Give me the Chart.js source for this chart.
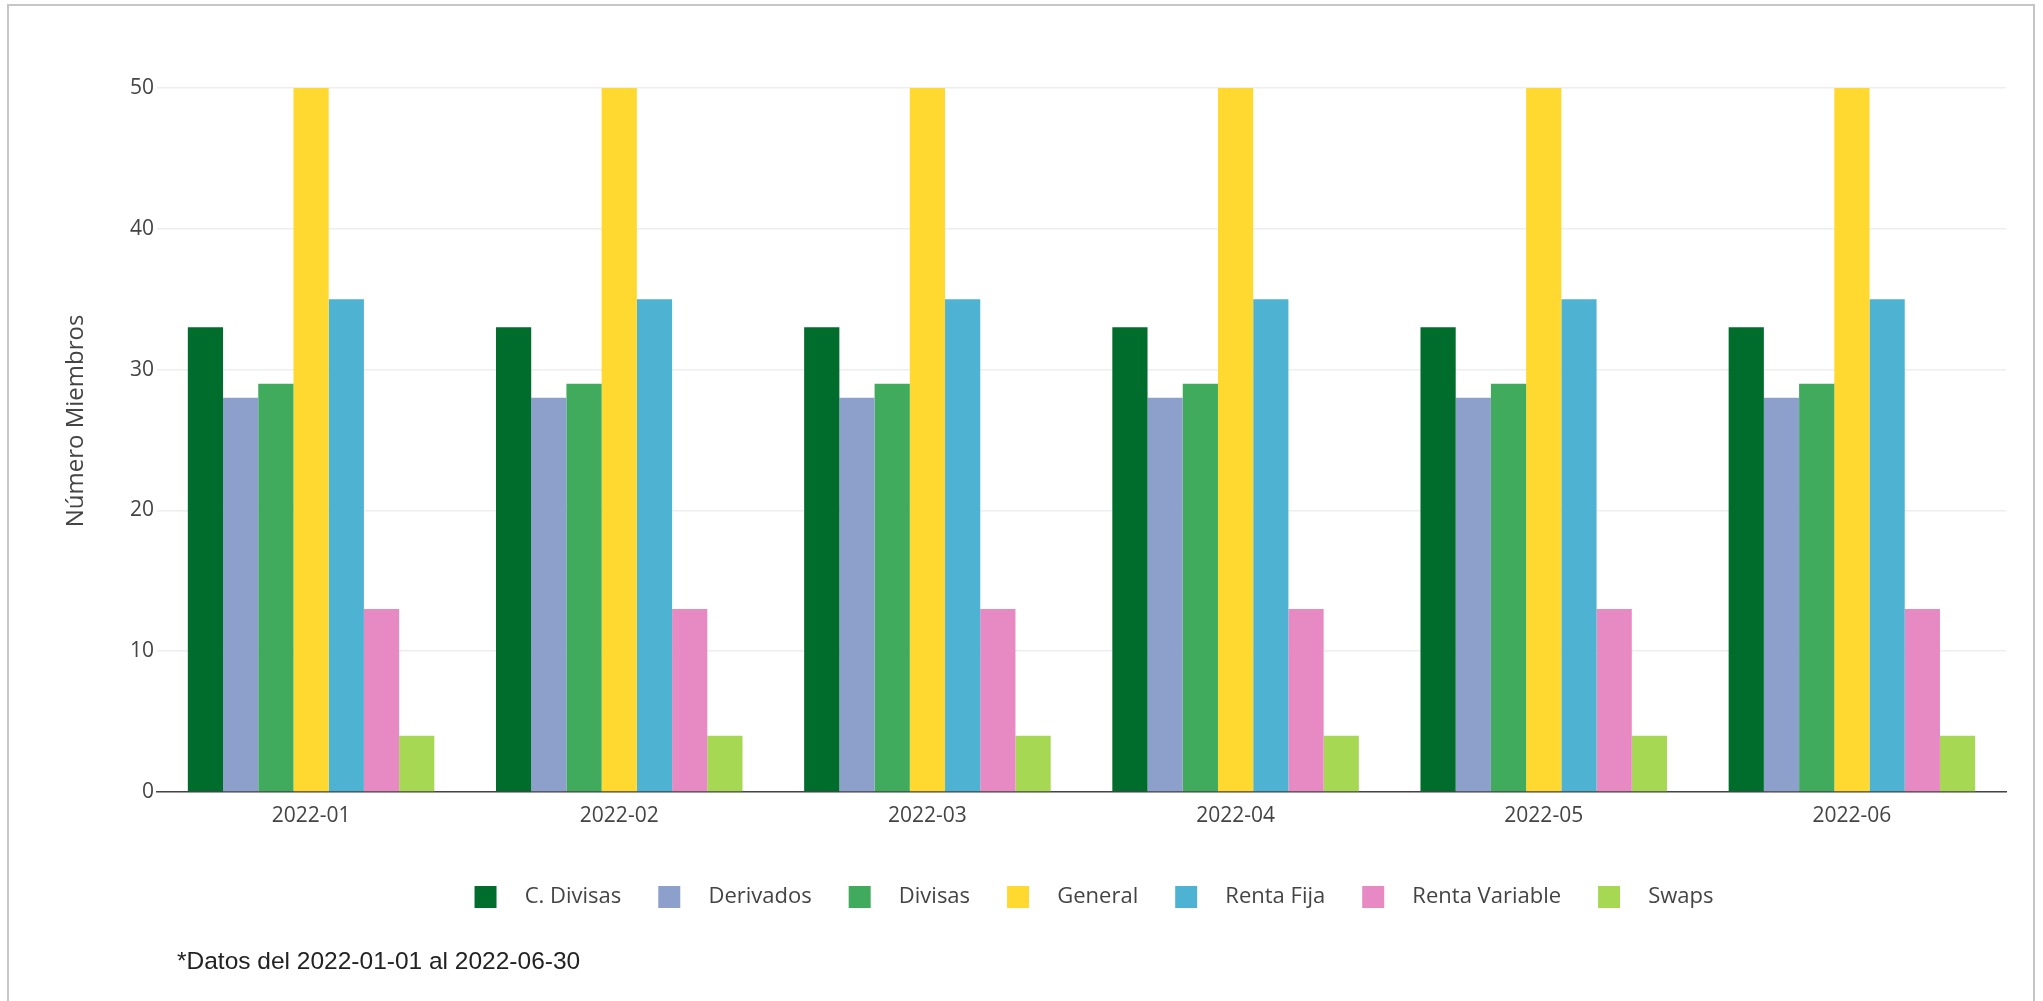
<!DOCTYPE html>
<html>
<head>
    <title>Número Miembros</title>
    <script src="https://cdn.jsdelivr.net/npm/chart.js"></script>
    <style>
        html, body { margin: 0; padding: 0; background: #fff; }
        #marco { position: absolute; left: 7px; top: 4px; width: 2024px; height: 1100px; border: 2px solid #c6c6c6; }
        #caja { position: absolute; left: 0; top: 0; width: 2043px; height: 1001px; }
        #nota { position: absolute; left: 177px; top: 949px; font-family: "Liberation Sans", Arial, sans-serif; font-size: 24.5px; line-height: 1; color: #222; }
    </style>
</head>
<body>
    <div id="marco"></div>
    <div id="caja"><canvas id="miembrosChart"></canvas></div>
    <div id="nota">*Datos del 2022-01-01 al 2022-06-30</div>
    <script>
        const meses = ['2022-01', '2022-02', '2022-03', '2022-04', '2022-05', '2022-06'];
        const cDivisas = [33, 33, 33, 33, 33, 33];
        const derivados = [28, 28, 28, 28, 28, 28];
        const divisas = [29, 29, 29, 29, 29, 29];
        const general = [50, 50, 50, 50, 50, 50];
        const rentaFija = [35, 35, 35, 35, 35, 35];
        const rentaVariable = [13, 13, 13, 13, 13, 13];
        const swaps = [4, 4, 4, 4, 4, 4];

        const series = [
            ['C. Divisas', cDivisas, '#006d2c'],
            ['Derivados', derivados, '#8da0cb'],
            ['Divisas', divisas, '#41ab5d'],
            ['General', general, '#ffd92f'],
            ['Renta Fija', rentaFija, '#4eb3d3'],
            ['Renta Variable', rentaVariable, '#e78ac3'],
            ['Swaps', swaps, '#a6d854']
        ];

        // la leyenda del original no queda centrada en el lienzo, va un poco a la derecha
        const moverLeyenda = {
            id: 'moverLeyenda',
            afterLayout(chart) {
                chart.legend.left += 60;
                chart.legend.right += 60;
            }
        };

        const fuente = '"Open Sans", "Noto Sans", sans-serif';
        const ctx = document.getElementById('miembrosChart').getContext('2d');
        const myChart = new Chart(ctx, {
            type: 'bar',
            data: {
                labels: meses,
                datasets: series.map(s => ({
                    label: s[0],
                    data: s[1],
                    backgroundColor: s[2],
                    borderWidth: 0,
                    categoryPercentage: 0.8,
                    barPercentage: 1.0
                }))
            },
            plugins: [moverLeyenda],
            options: {
                responsive: true,
                maintainAspectRatio: false,
                animation: false,
                layout: { padding: { left: 62, right: 37, top: 50, bottom: 83 } },
                plugins: {
                    tooltip: { enabled: false },
                    legend: {
                        position: 'bottom',
                        labels: {
                            boxWidth: 22,
                            boxHeight: 22,
                            padding: 37,
                            color: '#444',
                            font: { family: fuente, size: 22 },
                            generateLabels: function(chart) {
                                const items = Chart.defaults.plugins.legend.labels.generateLabels(chart);
                                items.forEach(it => { it.text = '   ' + it.text; it.lineWidth = 0; });
                                return items;
                            }
                        }
                    }
                },
                scales: {
                    x: {
                        grid: { display: false },
                        border: { display: true, color: '#444', width: 1.5 },
                        ticks: { color: '#444', padding: 3, font: { family: fuente, size: 21 } },
                        afterFit: function(scale) { scale.height = 57; }
                    },
                    y: {
                        min: 0,
                        max: 52.7,
                        grid: { color: '#eeeeee', lineWidth: 1.5, drawTicks: false },
                        border: { display: false },
                        ticks: { stepSize: 10, color: '#444', padding: 3, font: { family: fuente, size: 21 } },
                        afterBuildTicks: function(scale) {
                            scale.ticks = scale.ticks.filter(t => t.value % 10 === 0);
                        },
                        afterFit: function(scale) { scale.width = 95; },
                        title: {
                            display: true,
                            text: 'Número Miembros',
                            color: '#444',
                            padding: 0,
                            font: { family: fuente, size: 24 }
                        }
                    }
                }
            }
        });
    </script>
</body>
</html>
